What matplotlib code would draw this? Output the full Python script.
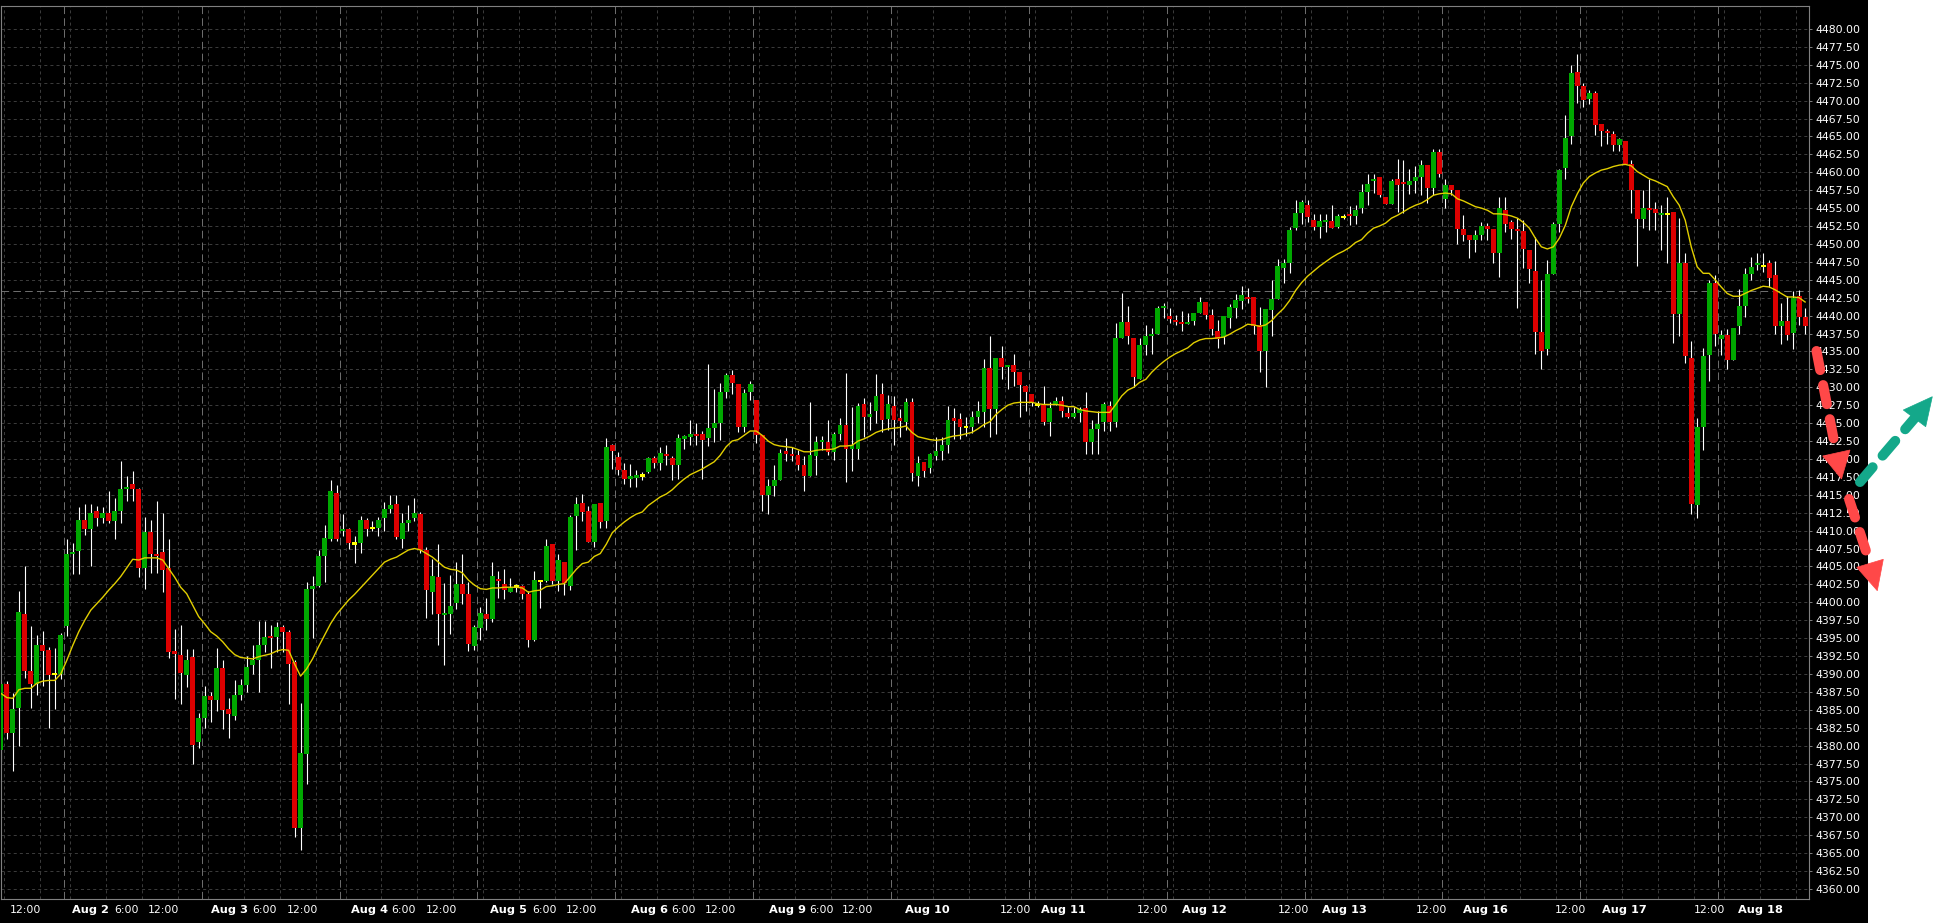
import numpy as np
import matplotlib
matplotlib.use("Agg")
import matplotlib.pyplot as plt
from matplotlib.lines import Line2D
from matplotlib.patches import Polygon, Rectangle
import matplotlib.transforms as mtransforms

plt.rcParams['lines.scale_dashes'] = False
plt.rcParams['font.family'] = ['DejaVu Sans']

# ---------------- data (hourly candles) ----------------
opens = [
4379.4, 4388.6, 4381.7, 4385.2, 4398.3, 4390.4, 4388.6, 4394.1, 4393.3, 4390.0,
4390.0, 4396.7, 4406.8, 4407.1, 4411.5, 4410.2, 4412.7, 4411.8, 4412.5, 4411.3,
4412.7, 4415.8, 4416.5, 4415.8, 4404.8, 4409.8, 4406.8, 4407.0, 4404.8, 4393.1,
4392.6, 4389.9, 4392.3, 4380.5, 4383.8, 4386.9, 4386.4, 4390.9, 4385.1, 4384.2,
4387.1, 4388.5, 4391.3, 4392.0, 4394.1, 4395.3, 4395.1, 4396.6, 4395.8, 4391.6,
4368.5, 4378.8, 4401.8, 4402.3, 4406.5, 4408.9, 4415.3, 4410.0, 4410.2, 4408.2,
4408.3, 4411.5, 4410.4, 4410.4, 4411.8, 4413.0, 4413.7, 4408.8, 4411.1, 4411.8,
4412.3, 4407.3, 4401.4, 4403.5, 4398.3, 4398.3, 4399.9, 4402.6, 4401.1, 4393.9,
4396.4, 4398.3, 4397.6, 4403.3, 4402.6, 4401.4, 4402.2, 4402.3, 4401.1, 4394.8,
4403.0, 4403.0, 4408.1, 4403.0, 4405.6, 4402.3, 4412.1, 4413.8, 4412.8, 4408.4,
4413.8, 4411.3, 4421.9, 4420.3, 4418.4, 4417.2, 4417.4, 4417.7, 4418.2, 4420.1,
4419.5, 4420.6, 4420.1, 4419.1, 4422.9, 4423.1, 4423.5, 4423.5, 4422.9, 4424.3,
4425.0, 4429.3, 4431.7, 4430.4, 4424.4, 4429.3, 4428.2, 4423.3, 4415.0, 4416.2,
4417.1, 4421.0, 4420.6, 4420.6, 4419.1, 4417.6, 4420.4, 4422.4, 4422.3, 4421.0,
4423.5, 4424.8, 4421.4, 4421.4, 4427.6, 4425.8, 4426.7, 4429.1, 4425.6, 4427.4,
4425.6, 4425.2, 4428.0, 4417.6, 4419.6, 4418.7, 4420.4, 4421.1, 4422.0, 4425.6,
4425.6, 4424.5, 4424.4, 4425.9, 4426.5, 4432.7, 4426.9, 4434.1, 4432.9, 4433.1,
4432.2, 4430.2, 4429.0, 4427.5, 4427.5, 4425.2, 4427.5, 4428.1, 4426.4, 4425.9,
4426.4, 4427.1, 4422.4, 4424.2, 4425.2, 4427.4, 4425.2, 4436.9, 4439.1, 4436.9,
4431.1, 4435.9, 4437.2, 4437.5, 4441.1, 4440.0, 4439.4, 4439.1, 4438.8, 4439.2,
4440.3, 4441.9, 4440.1, 4437.9, 4437.0, 4439.7, 4441.0, 4442.1, 4442.6, 4442.6,
4438.7, 4435.0, 4440.8, 4442.3, 4446.7, 4447.3, 4452.2, 4454.3, 4455.5, 4453.3,
4452.4, 4453.1, 4453.2, 4452.4, 4453.8, 4454.1, 4453.9, 4455.0, 4457.2, 4458.8,
4459.4, 4456.6, 4455.6, 4459.0, 4458.7, 4458.2, 4458.8, 4459.3, 4461.0, 4457.8,
4462.8, 4456.3, 4458.2, 4457.5, 4452.1, 4451.2, 4450.5, 4451.2, 4452.5, 4452.1,
4448.8, 4454.7, 4453.1, 4452.1, 4451.8, 4449.1, 4446.2, 4437.7, 4435.3, 4445.8,
4452.8, 4460.6, 4465.0, 4474.0, 4472.1, 4470.2, 4471.1, 4466.7, 4465.8, 4465.3,
4463.8, 4464.3, 4461.2, 4457.5, 4453.5, 4455.0, 4454.9, 4454.1, 4454.2, 4454.5,
4440.2, 4447.4, 4434.1, 4413.6, 4424.5, 4434.5, 4444.6, 4436.7, 4437.3, 4433.8,
4438.5, 4441.4, 4445.8, 4447.1, 4446.9, 4447.4, 4445.6, 4438.6, 4439.2, 4437.6,
4442.7, 4439.8]

highs = [
4389.0, 4389.0, 4387.3, 4401.6, 4405.1, 4396.7, 4395.5, 4396.0, 4393.8, 4393.6,
4395.7, 4408.9, 4408.3, 4413.3, 4413.7, 4413.7, 4413.5, 4413.3, 4415.5, 4414.6,
4419.7, 4417.6, 4418.3, 4416.0, 4411.9, 4411.5, 4414.1, 4412.4, 4408.8, 4396.3,
4396.9, 4393.5, 4393.5, 4384.6, 4388.3, 4387.5, 4393.6, 4391.9, 4386.7, 4389.2,
4389.3, 4392.5, 4394.0, 4397.4, 4397.4, 4396.8, 4397.2, 4396.9, 4396.2, 4392.0,
4385.9, 4402.9, 4403.6, 4407.3, 4410.8, 4417.0, 4416.3, 4412.3, 4410.3, 4409.3,
4412.0, 4411.7, 4411.3, 4411.9, 4414.0, 4415.0, 4415.0, 4412.5, 4413.6, 4414.5,
4412.6, 4407.7, 4406.1, 4408.2, 4402.7, 4403.8, 4405.6, 4406.8, 4402.8, 4396.8,
4399.3, 4400.6, 4405.6, 4404.3, 4404.6, 4403.4, 4402.6, 4402.4, 4401.6, 4404.3,
4403.1, 4408.9, 4408.1, 4406.7, 4405.6, 4412.2, 4414.7, 4415.1, 4413.4, 4413.7,
4413.8, 4422.9, 4422.1, 4421.0, 4419.4, 4419.3, 4418.5, 4418.2, 4420.3, 4420.4,
4421.7, 4421.9, 4420.4, 4423.5, 4423.4, 4425.4, 4425.0, 4423.9, 4433.3, 4429.7,
4430.6, 4432.0, 4432.4, 4430.4, 4429.7, 4430.9, 4428.2, 4423.3, 4417.2, 4419.1,
4421.4, 4422.9, 4421.6, 4421.3, 4420.4, 4427.9, 4423.2, 4423.2, 4425.4, 4423.7,
4425.7, 4432.0, 4427.2, 4427.8, 4428.5, 4428.0, 4431.8, 4430.6, 4428.9, 4428.8,
4427.0, 4428.5, 4428.5, 4420.4, 4419.6, 4420.9, 4423.0, 4423.1, 4427.4, 4427.1,
4426.4, 4425.8, 4426.7, 4428.1, 4433.9, 4437.1, 4434.1, 4435.8, 4432.9, 4434.6,
4432.2, 4430.3, 4429.0, 4428.1, 4430.2, 4427.9, 4428.7, 4428.8, 4427.2, 4427.2,
4427.2, 4429.4, 4425.4, 4426.7, 4428.0, 4428.1, 4438.9, 4443.1, 4441.4, 4436.9,
4436.9, 4438.7, 4438.3, 4441.4, 4441.8, 4441.1, 4440.1, 4440.6, 4440.3, 4440.3,
4442.6, 4441.9, 4440.9, 4439.4, 4440.0, 4441.6, 4443.0, 4444.1, 4443.8, 4442.6,
4441.2, 4440.9, 4444.9, 4447.9, 4447.9, 4452.4, 4456.2, 4456.2, 4456.2, 4454.2,
4454.2, 4454.2, 4455.4, 4454.2, 4454.2, 4455.3, 4455.5, 4458.4, 4459.7, 4459.7,
4459.4, 4456.6, 4459.1, 4461.9, 4461.7, 4460.5, 4460.9, 4461.7, 4461.0, 4463.2,
4463.2, 4459.0, 4458.2, 4457.5, 4454.0, 4451.2, 4451.9, 4453.0, 4452.9, 4452.1,
4456.6, 4456.6, 4453.3, 4453.6, 4453.4, 4449.2, 4450.9, 4445.0, 4447.7, 4453.1,
4460.5, 4468.0, 4474.9, 4476.5, 4472.4, 4471.5, 4471.4, 4466.7, 4466.1, 4465.8,
4464.8, 4464.3, 4461.7, 4457.5, 4457.5, 4459.1, 4455.9, 4455.4, 4456.6, 4454.5,
4453.6, 4448.8, 4436.4, 4425.7, 4435.5, 4445.0, 4445.7, 4438.0, 4438.2, 4438.3,
4443.7, 4446.6, 4448.2, 4448.8, 4448.7, 4447.7, 4447.6, 4441.7, 4442.7, 4443.5,
4443.6, 4441.0]

lows = [
4377.7, 4380.9, 4376.5, 4380.0, 4389.5, 4385.3, 4387.0, 4388.3, 4382.4, 4385.1,
4389.3, 4395.3, 4404.0, 4404.0, 4409.4, 4405.1, 4410.7, 4411.1, 4411.1, 4408.8,
4411.1, 4414.1, 4414.1, 4403.5, 4401.9, 4404.1, 4404.1, 4401.5, 4392.2, 4386.5,
4385.8, 4388.2, 4377.4, 4379.6, 4382.5, 4383.3, 4384.9, 4382.3, 4381.1, 4383.6,
4386.4, 4387.5, 4390.0, 4387.5, 4393.0, 4390.9, 4393.0, 4393.0, 4385.8, 4367.3,
4365.4, 4374.6, 4395.0, 4402.2, 4402.9, 4408.5, 4408.5, 4409.2, 4407.5, 4405.5,
4406.9, 4409.3, 4410.0, 4409.3, 4410.0, 4412.5, 4408.8, 4407.6, 4410.0, 4411.3,
4406.9, 4397.8, 4398.3, 4394.1, 4391.2, 4395.6, 4399.0, 4399.7, 4393.2, 4393.4,
4394.8, 4396.2, 4397.2, 4400.6, 4400.4, 4401.4, 4401.5, 4400.4, 4393.8, 4394.6,
4399.2, 4402.9, 4402.5, 4401.6, 4401.0, 4401.7, 4407.3, 4411.3, 4408.4, 4407.7,
4410.3, 4410.3, 4418.6, 4417.8, 4416.5, 4416.1, 4416.1, 4417.1, 4418.1, 4418.7,
4418.4, 4419.2, 4417.1, 4417.2, 4421.4, 4422.0, 4422.0, 4417.2, 4421.8, 4422.3,
4422.6, 4428.5, 4429.1, 4423.7, 4423.7, 4428.2, 4422.2, 4412.7, 4412.3, 4414.8,
4417.1, 4419.7, 4419.7, 4418.5, 4415.5, 4417.6, 4417.7, 4421.3, 4420.6, 4419.9,
4422.7, 4416.8, 4418.3, 4420.0, 4423.0, 4424.0, 4425.0, 4423.7, 4424.0, 4422.0,
4423.1, 4424.0, 4416.9, 4416.2, 4417.5, 4418.1, 4419.8, 4419.8, 4420.8, 4422.8,
4422.8, 4423.2, 4423.6, 4425.0, 4424.4, 4423.1, 4423.5, 4431.1, 4429.7, 4430.2,
4425.8, 4426.7, 4427.4, 4427.2, 4424.8, 4423.2, 4427.5, 4425.8, 4425.7, 4425.7,
4425.1, 4420.7, 4420.7, 4420.7, 4423.9, 4423.9, 4424.5, 4436.9, 4436.0, 4430.0,
4431.1, 4434.5, 4434.6, 4437.5, 4439.7, 4439.0, 4438.7, 4437.8, 4438.8, 4438.7,
4440.3, 4439.5, 4437.3, 4435.5, 4436.1, 4438.3, 4439.6, 4440.9, 4441.7, 4437.5,
4432.1, 4430.1, 4437.2, 4442.3, 4444.6, 4446.0, 4451.9, 4452.8, 4453.0, 4452.0,
4450.8, 4451.6, 4452.2, 4452.2, 4453.5, 4452.7, 4452.8, 4454.3, 4455.5, 4457.1,
4456.5, 4455.6, 4455.6, 4454.5, 4454.3, 4457.0, 4457.1, 4456.8, 4455.7, 4456.8,
4459.4, 4455.0, 4456.8, 4450.0, 4450.4, 4448.0, 4448.9, 4450.5, 4450.5, 4447.3,
4445.4, 4451.7, 4450.7, 4441.0, 4446.6, 4444.5, 4434.7, 4432.5, 4434.5, 4445.8,
4451.7, 4459.0, 4464.0, 4469.7, 4469.1, 4469.5, 4465.2, 4463.7, 4464.0, 4462.9,
4463.0, 4461.1, 4454.3, 4446.9, 4452.2, 4451.9, 4452.0, 4449.2, 4447.4, 4436.2,
4437.1, 4433.4, 4412.3, 4411.7, 4421.2, 4430.9, 4435.7, 4434.5, 4432.5, 4433.8,
4437.5, 4439.8, 4445.0, 4446.3, 4446.1, 4444.0, 4437.5, 4436.1, 4436.6, 4435.3,
4438.7, 4437.5]

closes = [
4388.6, 4381.7, 4385.1, 4398.6, 4390.4, 4388.6, 4394.1, 4393.2, 4389.9, 4390.0,
4395.4, 4406.8, 4406.9, 4411.5, 4410.2, 4412.4, 4411.8, 4412.5, 4411.3, 4412.7,
4415.8, 4416.1, 4415.8, 4404.8, 4409.8, 4406.8, 4406.4, 4404.5, 4393.1, 4392.9,
4390.1, 4392.0, 4380.1, 4383.8, 4386.9, 4386.4, 4390.9, 4385.0, 4384.4, 4387.1,
4388.5, 4391.0, 4392.0, 4394.1, 4395.1, 4395.1, 4396.6, 4395.8, 4391.4, 4368.5,
4379.0, 4401.8, 4402.3, 4406.4, 4409.0, 4415.5, 4408.8, 4410.1, 4408.3, 4408.2,
4411.5, 4410.2, 4410.4, 4411.5, 4413.0, 4413.6, 4409.1, 4411.1, 4411.5, 4412.5,
4407.3, 4401.7, 4403.6, 4398.3, 4398.4, 4399.5, 4402.6, 4401.1, 4394.2, 4396.6,
4398.5, 4397.6, 4403.6, 4403.0, 4401.7, 4402.0, 4402.2, 4401.1, 4394.8, 4403.1,
4403.0, 4407.8, 4403.0, 4405.9, 4402.7, 4411.9, 4413.7, 4412.6, 4408.4, 4413.7,
4411.2, 4421.7, 4421.1, 4418.4, 4417.2, 4417.6, 4417.8, 4417.7, 4420.1, 4419.5,
4420.9, 4420.4, 4419.1, 4422.9, 4423.1, 4423.5, 4423.3, 4422.6, 4424.3, 4425.0,
4429.3, 4431.7, 4430.6, 4424.4, 4429.2, 4430.4, 4423.3, 4415.0, 4416.2, 4417.1,
4420.9, 4420.8, 4420.4, 4419.1, 4417.6, 4420.5, 4422.3, 4422.6, 4421.0, 4423.5,
4424.8, 4421.4, 4422.0, 4427.4, 4425.8, 4426.3, 4428.8, 4425.4, 4427.6, 4425.4,
4425.4, 4428.0, 4418.0, 4419.5, 4418.3, 4420.7, 4421.1, 4422.0, 4425.4, 4425.4,
4424.4, 4424.5, 4425.9, 4426.7, 4432.7, 4426.9, 4434.1, 4432.8, 4433.1, 4432.2,
4430.3, 4429.4, 4427.8, 4427.5, 4425.2, 4427.1, 4428.1, 4426.7, 4425.9, 4426.4,
4426.9, 4422.4, 4424.2, 4424.9, 4427.6, 4425.2, 4436.9, 4439.1, 4437.2, 4431.5,
4435.9, 4437.2, 4437.5, 4441.0, 4441.4, 4439.5, 4439.2, 4438.8, 4439.1, 4440.3,
4441.9, 4440.1, 4438.2, 4436.8, 4440.0, 4441.2, 4442.2, 4442.9, 4442.4, 4438.5,
4435.0, 4440.9, 4442.3, 4446.9, 4447.3, 4451.9, 4454.3, 4455.8, 4453.7, 4452.4,
4453.2, 4453.3, 4452.2, 4453.9, 4453.8, 4453.9, 4454.7, 4457.2, 4458.4, 4459.0,
4456.8, 4455.6, 4458.8, 4458.2, 4458.3, 4458.8, 4459.3, 4461.0, 4457.8, 4462.8,
4459.7, 4458.2, 4457.5, 4452.1, 4451.2, 4450.5, 4451.2, 4452.5, 4452.1, 4448.8,
4455.0, 4452.8, 4452.1, 4451.8, 4449.3, 4446.5, 4437.7, 4435.1, 4445.8, 4452.8,
4460.3, 4464.8, 4473.8, 4472.1, 4470.1, 4471.1, 4466.6, 4465.7, 4465.5, 4463.8,
4464.6, 4461.1, 4457.5, 4453.5, 4455.0, 4454.7, 4454.3, 4454.3, 4454.2, 4440.2,
4447.4, 4434.3, 4413.7, 4424.5, 4434.3, 4444.6, 4437.5, 4437.3, 4433.8, 4438.3,
4441.4, 4445.8, 4446.8, 4447.4, 4446.9, 4445.3, 4438.6, 4439.2, 4437.3, 4442.5,
4439.8, 4438.6]

moving_avg = [
4387.3, 4386.7, 4386.6, 4387.8, 4388.0, 4388.0, 4388.7, 4389.0, 4389.1, 4389.1,
4390.0, 4391.9, 4394.0, 4395.9, 4397.5, 4398.9, 4399.8, 4400.7, 4401.7, 4402.6,
4403.6, 4404.8, 4406.0, 4405.9, 4406.2, 4406.2, 4406.2, 4405.9, 4404.7, 4403.5,
4402.1, 4401.2, 4399.6, 4398.0, 4397.0, 4395.9, 4395.3, 4394.5, 4393.5, 4392.7,
4392.3, 4392.2, 4392.1, 4392.4, 4392.6, 4392.8, 4393.2, 4393.4, 4393.3, 4391.4,
4389.7, 4390.7, 4392.1, 4393.8, 4395.4, 4397.0, 4398.3, 4399.3, 4400.3, 4401.1,
4402.0, 4402.9, 4403.8, 4404.7, 4405.6, 4406.0, 4406.3, 4406.8, 4407.3, 4407.5,
4407.3, 4406.8, 4406.3, 4405.6, 4404.9, 4404.6, 4404.5, 4404.1, 4403.1, 4402.4,
4401.9, 4401.8, 4402.0, 4402.0, 4402.1, 4402.1, 4402.1, 4402.0, 4401.4, 4401.6,
4401.7, 4402.2, 4402.3, 4402.5, 4402.6, 4403.6, 4404.6, 4405.4, 4405.6, 4406.4,
4406.8, 4408.1, 4409.7, 4410.5, 4411.2, 4411.8, 4412.3, 4412.6, 4413.5, 4414.1,
4414.7, 4415.1, 4415.7, 4416.5, 4417.2, 4417.8, 4418.2, 4418.6, 4419.1, 4419.6,
4420.5, 4421.7, 4422.5, 4422.7, 4423.3, 4423.9, 4423.9, 4423.3, 4422.5, 4422.0,
4421.8, 4421.7, 4421.6, 4421.3, 4421.0, 4421.0, 4421.2, 4421.3, 4421.3, 4421.4,
4421.8, 4421.8, 4421.9, 4422.5, 4422.8, 4423.2, 4423.7, 4424.0, 4424.2, 4424.3,
4424.4, 4424.6, 4423.7, 4423.1, 4422.9, 4422.7, 4422.6, 4422.7, 4423.0, 4423.2,
4423.3, 4423.5, 4423.7, 4424.2, 4424.8, 4425.2, 4426.2, 4426.9, 4427.5, 4427.8,
4427.9, 4427.9, 4427.9, 4427.7, 4427.6, 4427.6, 4427.6, 4427.5, 4427.3, 4427.3,
4426.9, 4426.7, 4426.6, 4426.5, 4426.5, 4426.5, 4427.6, 4428.8, 4429.6, 4430.0,
4430.7, 4431.1, 4432.1, 4432.9, 4433.6, 4434.2, 4434.7, 4435.1, 4435.5, 4436.2,
4436.6, 4436.8, 4436.8, 4436.9, 4437.0, 4437.4, 4437.9, 4438.3, 4438.8, 4438.7,
4438.5, 4438.7, 4439.3, 4440.2, 4441.0, 4442.1, 4443.5, 4444.6, 4445.5, 4446.2,
4446.9, 4447.5, 4448.1, 4448.6, 4449.0, 4449.5, 4450.2, 4450.6, 4451.5, 4452.2,
4452.5, 4452.9, 4453.6, 4454.0, 4454.5, 4455.0, 4455.4, 4455.7, 4456.2, 4456.8,
4457.0, 4457.1, 4457.0, 4456.3, 4456.0, 4455.6, 4455.2, 4455.0, 4454.7, 4454.2,
4454.2, 4454.1, 4453.9, 4453.6, 4453.0, 4452.2, 4450.8, 4449.6, 4449.3, 4449.6,
4450.8, 4452.6, 4455.2, 4457.0, 4458.5, 4459.4, 4459.9, 4460.3, 4460.5, 4460.8,
4461.0, 4461.1, 4460.9, 4460.1, 4459.6, 4459.1, 4458.8, 4458.4, 4458.0, 4456.6,
4455.4, 4453.3, 4449.6, 4446.8, 4445.9, 4445.9, 4445.0, 4444.0, 4443.1, 4442.7,
4442.7, 4443.1, 4443.5, 4443.8, 4444.1, 4444.0, 4443.6, 4443.1, 4442.6, 4442.6,
4442.5, 4441.9]

# x-axis labels (text, centre position in candle units)
xlabel_texts = ['12:00',
                'Aug 2', '6:00', '12:00', 'Aug 3', '6:00', '12:00',
                'Aug 4', '6:00', '12:00', 'Aug 5', '6:00', '12:00',
                'Aug 6', '6:00', '12:00', 'Aug 9', '6:00', '12:00',
                'Aug 10', '12:00', 'Aug 11', '12:00', 'Aug 12', '12:00',
                'Aug 13', '12:00', 'Aug 16', '12:00', 'Aug 17', '12:00',
                'Aug 18']
xlabel_pos = [4.1,
              15.0, 21.0, 27.1, 38.1, 44.0, 50.3,
              61.5, 67.2, 73.5, 84.7, 90.7, 96.8,
              108.2, 113.9, 120.0, 131.2, 136.9, 142.9,
              154.6, 169.2, 177.2, 192.2, 200.7, 215.6,
              224.1, 238.6, 247.6, 261.8, 270.8, 285.0,
              293.5]
level_line = 4443.5
y_ticks = np.arange(4360.0, 4480.01, 2.5)

# ---------------- layout ----------------
W, H = 1934, 923
fig = plt.figure(figsize=(W / 100, H / 100), dpi=100, facecolor='white')
fig.patches.append(Rectangle((0, 0), 1868 / W, 1, transform=fig.transFigure,
                             facecolor='black', edgecolor='none', zorder=-10))
ax = fig.add_axes([0.5 / W, (H - 899) / H, 1808.5 / W, 893 / H])
ax.set_facecolor('black')

n = min(len(opens), len(highs), len(lows), len(closes), len(moving_avg))
o = np.array(opens[:n]); h = np.array(highs[:n])
l = np.array(lows[:n]); c = np.array(closes[:n])
ma = np.array(moving_avg[:n])
idx = np.arange(n)

# grid
grid_col = '#3a3a3a'
sep_col = '#6c6c6c'
for y in y_ticks:
    ax.axhline(y, color=grid_col, lw=0.72, ls=(0, (2.2, 2.2)), zorder=1)
sessions = 10.5 + 23 * np.arange(-1, 14)
for s in sessions:
    for off in (1, 7, 13, 19):
        ax.axvline(s + off, color=grid_col, lw=0.72, ls=(0, (2.2, 2.2)), zorder=1)
    ax.axvline(s, color=sep_col, lw=0.72, ls=(0, (5.5, 3.0)), zorder=1.2)
ax.axhline(level_line, color=sep_col, lw=0.72, ls=(0, (5.5, 3.0)), zorder=1.2)

# candles
colors = np.where(c > o, '#00A800', np.where(c < o, '#DD0000', '#FFFF00'))
ax.vlines(idx, l, h, color='white', lw=0.8, zorder=2)
body = np.abs(c - o)
hgt = np.maximum(body, 0.3)
bottom = np.minimum(o, c) - (hgt - body) / 2
ax.bar(idx, hgt, bottom=bottom, width=0.8, color=colors, linewidth=0, zorder=3)

# moving average
ax.plot(idx, ma, color='#E2CF00', lw=1.0, zorder=4)

ax.set_xlim(-0.06, 301.65)
ax.set_ylim(4358.6, 4483.2)

# axes styling
for sp in ax.spines.values():
    sp.set_color('#808080')
    sp.set_linewidth(0.8)
ax.set_xticks([])
ax.yaxis.tick_right()
ax.set_yticks(y_ticks)
ax.set_yticklabels(['%.2f' % v for v in y_ticks])
ax.tick_params(axis='y', colors='#808080', labelcolor='white', length=2.5,
               width=0.7, pad=2.2, labelsize=7.8)

# x labels
tr = mtransforms.blended_transform_factory(ax.transData, ax.transAxes)
for txt, pos in zip(xlabel_texts, xlabel_pos):
    bold = txt.startswith('Aug')
    ax.text(pos, -0.0125, txt, transform=tr, color='white',
            fontsize=8.2 if bold else 7.8,
            fontweight='bold' if bold else 'normal', ha='center', va='center',
            clip_on=False)

# ---------------- drawn arrows (overlay annotations, pixel layout) ----------------
def P(x, y):
    return (x / W, 1 - y / H)

def dashed_arrow(tail, base1, base2, tip, color):
    bm = ((base1[0] + base2[0]) / 2, (base1[1] + base2[1]) / 2)
    p0, p1 = P(*tail), P(*bm)
    fig.add_artist(Line2D([p0[0], p1[0]], [p0[1], p1[1]], transform=fig.transFigure,
                          color=color, lw=7.2, ls=(0, (14, 11)),
                          dash_capstyle='round', solid_capstyle='round', zorder=20))
    fig.add_artist(Polygon([P(*base1), P(*tip), P(*base2)], closed=True,
                           transform=fig.transFigure, facecolor=color,
                           edgecolor=color, lw=0.5, zorder=21))

red = '#FF4848'
teal = '#14A88A'
dashed_arrow((1816.5, 351), (1822.7, 456), (1850, 450), (1841.5, 479), red)
dashed_arrow((1849, 499), (1856.7, 567.3), (1883.3, 559.3), (1877.3, 590.7), red)
dashed_arrow((1860, 482), (1903.3, 410), (1925.7, 426.7), (1932.3, 396.7), teal)

fig.savefig('out.png', dpi=100, facecolor='white')
